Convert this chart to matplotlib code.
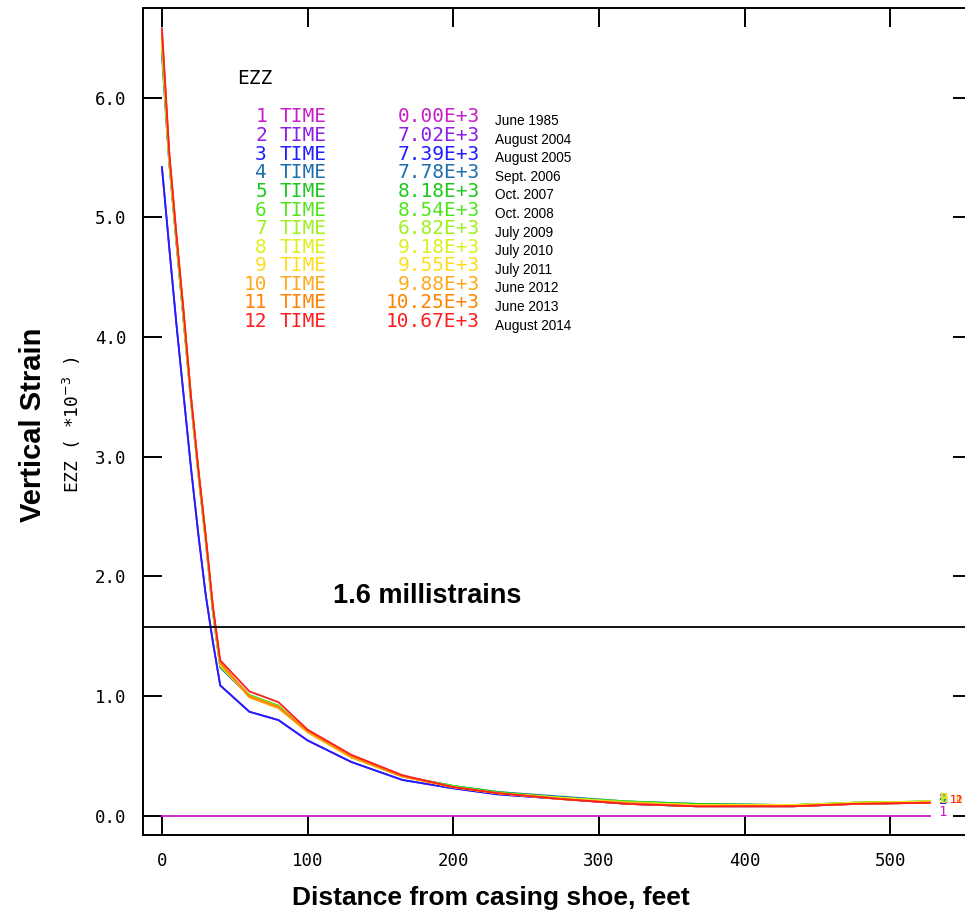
import matplotlib.pyplot as plt

# distance from casing shoe (feet)
dist = [0, 5, 10, 15, 20, 25, 30, 35, 40, 60, 80, 100, 130, 165, 200, 230, 275, 320, 367, 433, 476, 527]

# vertical strain EZZ (*10^-3), one list per time step
ezz_01 = [0.00] * 22
ezz_02 = [5.42, 4.75, 4.10, 3.50, 2.90, 2.35, 1.85, 1.45, 1.09, 0.87, 0.80, 0.63, 0.45, 0.30, 0.23, 0.18, 0.14, 0.10, 0.08, 0.08, 0.10, 0.11]
ezz_03 = [5.42, 4.75, 4.10, 3.50, 2.90, 2.35, 1.85, 1.45, 1.09, 0.87, 0.80, 0.63, 0.45, 0.30, 0.23, 0.18, 0.14, 0.10, 0.08, 0.08, 0.10, 0.11]
ezz_04 = [6.35, 5.45, 4.78, 4.12, 3.45, 2.85, 2.30, 1.70, 1.24, 1.00, 0.91, 0.70, 0.49, 0.33, 0.25, 0.20, 0.16, 0.12, 0.10, 0.09, 0.11, 0.12]
ezz_05 = [6.40, 5.47, 4.79, 4.13, 3.46, 2.86, 2.31, 1.71, 1.25, 1.01, 0.92, 0.70, 0.49, 0.33, 0.25, 0.20, 0.15, 0.12, 0.10, 0.09, 0.11, 0.12]
ezz_06 = [6.42, 5.48, 4.80, 4.14, 3.47, 2.87, 2.31, 1.71, 1.25, 1.01, 0.92, 0.70, 0.49, 0.33, 0.25, 0.19, 0.15, 0.12, 0.09, 0.09, 0.11, 0.12]
ezz_07 = [6.45, 5.49, 4.81, 4.15, 3.47, 2.87, 2.32, 1.72, 1.26, 1.00, 0.91, 0.70, 0.49, 0.33, 0.24, 0.19, 0.15, 0.11, 0.09, 0.09, 0.11, 0.12]
ezz_08 = [6.47, 5.50, 4.82, 4.16, 3.48, 2.88, 2.32, 1.72, 1.26, 1.00, 0.91, 0.70, 0.49, 0.33, 0.24, 0.19, 0.15, 0.11, 0.09, 0.09, 0.11, 0.12]
ezz_09 = [6.50, 5.51, 4.83, 4.17, 3.48, 2.88, 2.33, 1.73, 1.27, 0.99, 0.90, 0.70, 0.49, 0.33, 0.24, 0.19, 0.14, 0.11, 0.09, 0.09, 0.10, 0.12]
ezz_10 = [6.52, 5.52, 4.83, 4.18, 3.49, 2.89, 2.33, 1.73, 1.27, 0.99, 0.90, 0.70, 0.49, 0.33, 0.24, 0.19, 0.14, 0.11, 0.08, 0.08, 0.10, 0.11]
ezz_11 = [6.55, 5.53, 4.84, 4.19, 3.49, 2.89, 2.34, 1.74, 1.28, 1.00, 0.91, 0.71, 0.50, 0.33, 0.24, 0.19, 0.14, 0.10, 0.08, 0.08, 0.10, 0.11]
ezz_12 = [6.58, 5.55, 4.85, 4.20, 3.50, 2.90, 2.35, 1.75, 1.30, 1.04, 0.95, 0.72, 0.51, 0.34, 0.24, 0.19, 0.14, 0.10, 0.08, 0.08, 0.10, 0.11]

series = [ezz_01, ezz_02, ezz_03, ezz_04, ezz_05, ezz_06, ezz_07, ezz_08, ezz_09, ezz_10, ezz_11, ezz_12]
times = ["0.00E+3", "7.02E+3", "7.39E+3", "7.78E+3", "8.18E+3", "8.54E+3",
         "6.82E+3", "9.18E+3", "9.55E+3", "9.88E+3", "10.25E+3", "10.67E+3"]
dates = ["June 1985", "August 2004", "August 2005", "Sept. 2006", "Oct. 2007", "Oct. 2008",
         "July 2009", "July 2010", "July 2011", "June 2012", "June 2013", "August 2014"]
colors = ["#c81ec8", "#8c1ee6", "#1e1eff", "#1e6eaa", "#1ec81e", "#50e61e",
          "#a0f01e", "#dcf01e", "#ffdc1e", "#ffaa1e", "#ff8200", "#ff1e1e"]

mono = "DejaVu Sans Mono"
W, H = 965, 915

fig = plt.figure(figsize=(W / 100, H / 100), dpi=100)
ax = fig.add_axes([143 / W, 80 / H, 829 / W, 827 / H])

for i in range(12):
    ax.plot(dist, series[i], color=colors[i], lw=1.3)

# end-of-curve labels (overlapping, as in the original plot)
for i in range(12):
    if i == 0:
        ax.text(536, series[i][-1] + 0.03, "1", color=colors[i], family=mono, fontsize=10,
                ha="center", va="center")
    elif i < 9:
        ax.text(536, series[i][-1] + 0.02, str(i + 1), color=colors[i], family=mono, fontsize=10,
                ha="center", va="center")
    else:
        ax.text(541, series[i][-1] + 0.02, str(i + 1), color=colors[i], family=mono, fontsize=8,
                ha="left", va="center")

ax.axhline(1.58, color="black", lw=1.3)
ax.text(182, 1.84, "1.6 millistrains", fontsize=19.5, fontweight="bold", family="Liberation Sans",
        ha="center", va="center")

ax.set_xlim(-13, 556)
ax.set_ylim(-0.16, 6.75)
ax.set_xticks([0, 100, 200, 300, 400, 500])
ax.set_yticks([0, 1, 2, 3, 4, 5, 6])
ax.set_yticklabels(["0.0", "1.0", "2.0", "3.0", "4.0", "5.0", "6.0"])
ax.tick_params(direction="in", length=14, width=1.4, top=True, right=True, pad=12)
for lab in ax.get_xticklabels() + ax.get_yticklabels():
    lab.set_family(mono)
    lab.set_fontsize(12.5)
for sp in ax.spines.values():
    sp.set_linewidth(1.4)

fig.text(491 / W, 1 - 898 / H, "Distance from casing shoe, feet", fontsize=19, fontweight="bold",
         family="Liberation Sans", ha="center", va="center")
fig.text(33 / W, 1 - 425 / H, "Vertical Strain", rotation=90, fontsize=21, fontweight="bold",
         family="Liberation Sans", ha="center", va="center")
fig.text(72 / W, 1 - 425 / H, r"EZZ ( *10$^{-3}$ )", rotation=90, fontsize=13, family=mono,
         ha="center", va="center")

# legend block
fig.text(237 / W, 1 - 79 / H, "EZZ", family=mono, fontsize=14, ha="left", va="center")
for i in range(12):
    y = 1 - (117 + i * 18.6) / H
    fig.text(267 / W, y, str(i + 1), color=colors[i], family=mono, fontsize=14, ha="right", va="center")
    fig.text(280 / W, y, "TIME", color=colors[i], family=mono, fontsize=14, ha="left", va="center")
    fig.text(480 / W, y, times[i], color=colors[i], family=mono, fontsize=14, ha="right", va="center")
    fig.text(495 / W, y - 4 / H, dates[i], color="black", family="Liberation Sans", fontsize=9.8,
             ha="left", va="center")

plt.savefig("out.png", dpi=100)
